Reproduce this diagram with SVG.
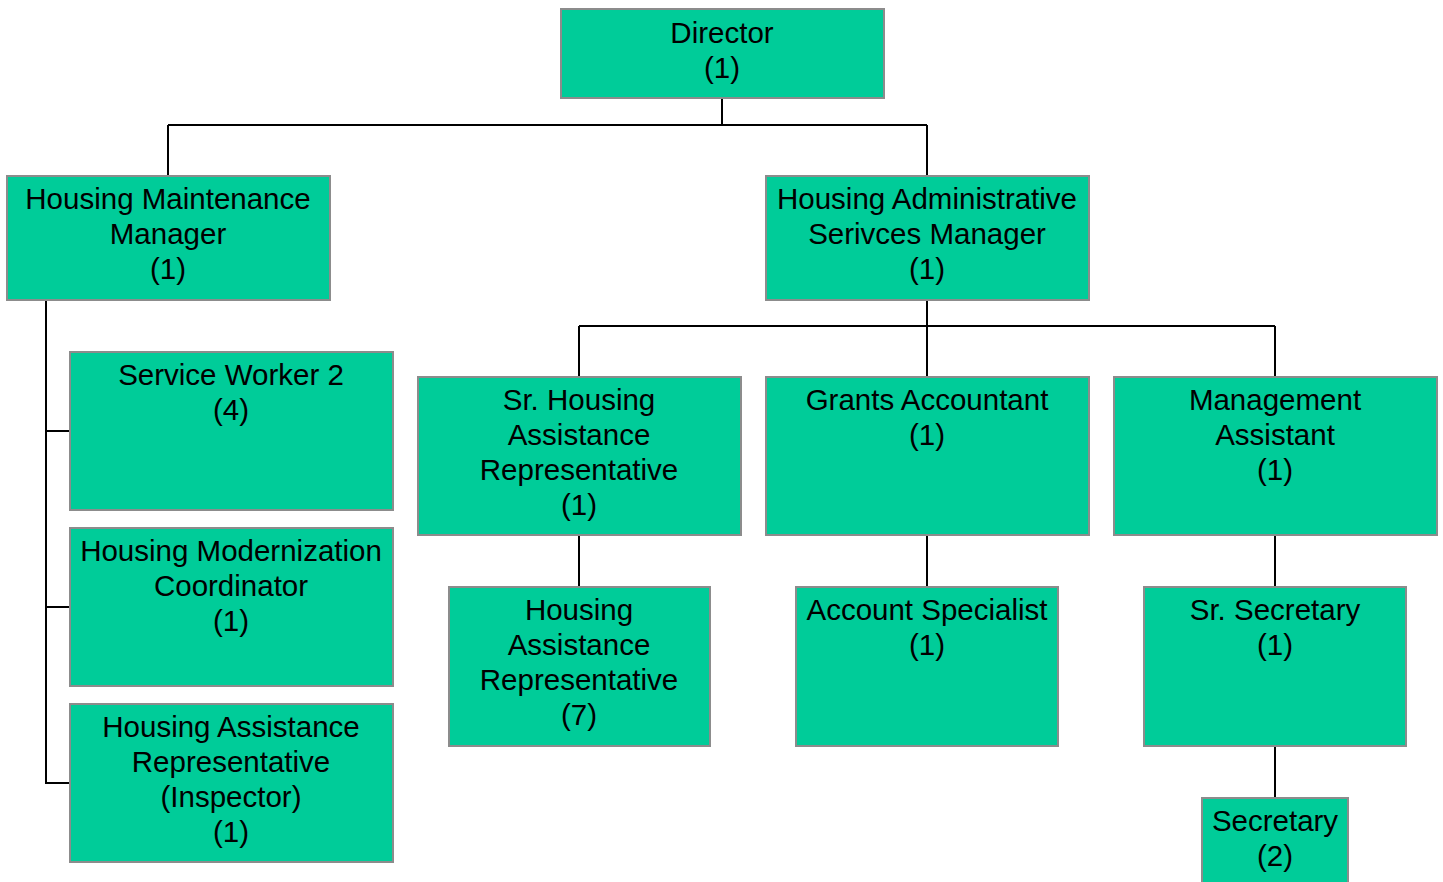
<svg xmlns="http://www.w3.org/2000/svg" width="1443" height="882" viewBox="0 0 1443 882">
<style>
.box{fill:#00CC99;stroke:#8C8C8C;stroke-width:2}
.t{font-family:"Liberation Sans",Arial,sans-serif;font-size:29.5px;fill:#000;text-anchor:middle}
.c{stroke:#000;stroke-width:2;fill:none}
</style>
<rect width="1443" height="882" fill="#fff"/>
<g id="connectors">
<path class="c" d="M722 98V125M168 125H927M168 125V176M927 125V176"/>
<path class="c" d="M46 300V784M46 431H70M46 607H70M46 783H70"/>
<path class="c" d="M927 300V377M579 326H1275M579 326V377M1275 326V377"/>
<path class="c" d="M579 535V587M927 535V587M1275 535V587M1275 746V798"/>
</g>
<g id="director"><rect class="box" x="561" y="9" width="323" height="89"/>
<text class="t" x="722" y="43">Director</text><text class="t" x="722" y="78">(1)</text></g>
<g id="hmm"><rect class="box" x="7" y="176" width="323" height="124"/>
<text class="t" x="168" y="209">Housing Maintenance</text><text class="t" x="168" y="244">Manager</text><text class="t" x="168" y="279">(1)</text></g>
<g id="hasm"><rect class="box" x="766" y="176" width="323" height="124"/>
<text class="t" x="927" y="209">Housing Administrative</text><text class="t" x="927" y="244">Serivces Manager</text><text class="t" x="927" y="279">(1)</text></g>
<g id="sw2"><rect class="box" x="70" y="352" width="323" height="158"/>
<text class="t" x="231" y="385">Service Worker 2</text><text class="t" x="231" y="420">(4)</text></g>
<g id="hmc"><rect class="box" x="70" y="528" width="323" height="158"/>
<text class="t" x="231" y="561">Housing Modernization</text><text class="t" x="231" y="596">Coordinator</text><text class="t" x="231" y="631">(1)</text></g>
<g id="hari"><rect class="box" x="70" y="704" width="323" height="158"/>
<text class="t" x="231" y="737">Housing Assistance</text><text class="t" x="231" y="772">Representative</text><text class="t" x="231" y="807">(Inspector)</text><text class="t" x="231" y="842">(1)</text></g>
<g id="srhar"><rect class="box" x="418" y="377" width="323" height="158"/>
<text class="t" x="579" y="410">Sr. Housing</text><text class="t" x="579" y="445">Assistance</text><text class="t" x="579" y="480">Representative</text><text class="t" x="579" y="515">(1)</text></g>
<g id="ga"><rect class="box" x="766" y="377" width="323" height="158"/>
<text class="t" x="927" y="410">Grants Accountant</text><text class="t" x="927" y="445">(1)</text></g>
<g id="ma"><rect class="box" x="1114" y="377" width="323" height="158"/>
<text class="t" x="1275" y="410">Management</text><text class="t" x="1275" y="445">Assistant</text><text class="t" x="1275" y="480">(1)</text></g>
<g id="har"><rect class="box" x="449" y="587" width="261" height="159"/>
<text class="t" x="579" y="620">Housing</text><text class="t" x="579" y="655">Assistance</text><text class="t" x="579" y="690">Representative</text><text class="t" x="579" y="725">(7)</text></g>
<g id="as"><rect class="box" x="796" y="587" width="262" height="159"/>
<text class="t" x="927" y="620">Account Specialist</text><text class="t" x="927" y="655">(1)</text></g>
<g id="srsec"><rect class="box" x="1144" y="587" width="262" height="159"/>
<text class="t" x="1275" y="620">Sr. Secretary</text><text class="t" x="1275" y="655">(1)</text></g>
<g id="sec"><rect class="box" x="1202" y="798" width="146" height="90"/>
<text class="t" x="1275" y="831">Secretary</text><text class="t" x="1275" y="866">(2)</text></g>
</svg>
